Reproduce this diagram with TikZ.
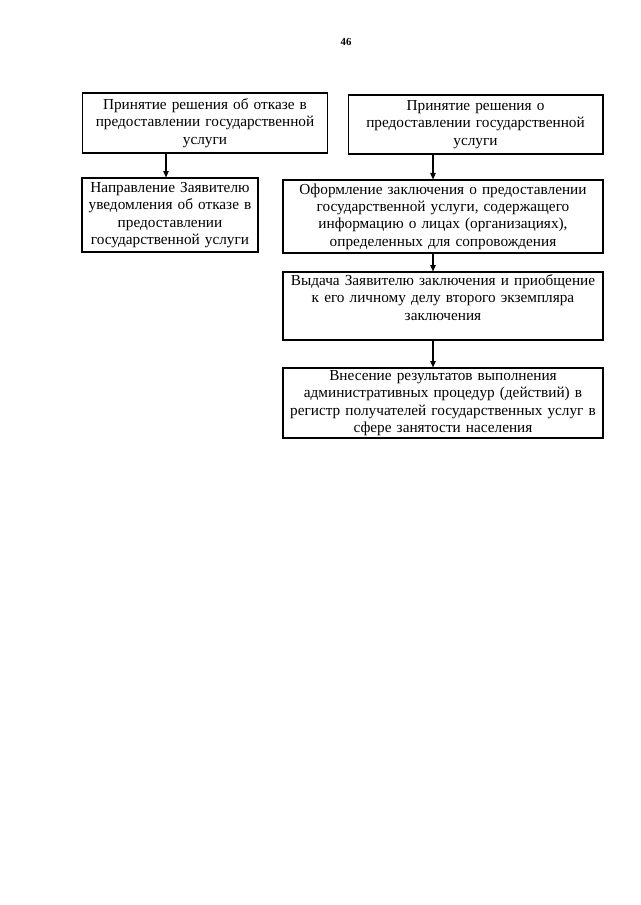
\documentclass[tikz,border=0pt]{standalone}
\usepackage{fontspec}
\setmainfont{Liberation Serif}
\usetikzlibrary{arrows.meta,calc}

\begin{document}
\begin{tikzpicture}[x=0.9297pt,y=-0.9297pt]
\tikzstyle{every node}+=[inner sep=2pt]
\tikzstyle{box}=[draw=black, line width=1pt, align=center, font=\fontsize{14.2}{16.2}\selectfont]
\tikzstyle{arr}=[black, line width=1pt, -{Triangle[length=6pt,width=5pt]}]
\useasboundingbox (0,0) rectangle (640,905);
\node (pagenum) at (346,42) {\fontsize{10}{12}\selectfont\bfseries 46};
% left branch
\node [box, text width=224pt, minimum height=55.8pt] (refuse) at (205,123)
  {Принятие решения об отказе в\\ предоставлении государственной\\ услуги};
\node [box, text width=159.6pt, minimum height=68.8pt] (notify) at (170,215)
  {Направление Заявителю\\ уведомления об отказе в\\ предоставлении\\ государственной услуги};
% right branch
\node [box, text width=233pt, minimum height=54.9pt] (grant) at (475.5,124.5)
  {Принятие решения о\\ предоставлении государственной\\ услуги};
\node [box, text width=293.5pt, minimum height=67.9pt] (conclusion) at (443,216.5)
  {Оформление заключения о предоставлении\\ государственной услуги, содержащего\\ информацию о лицах (организациях),\\ определенных для сопровождения};
\node [box, text width=293.5pt, minimum height=63.2pt] (issue) at (443,306)
  {Выдача Заявителю заключения и приобщение\\ к его личному делу второго экземпляра\\ заключения\\ \mbox{}};
\node [box, text width=293.5pt, minimum height=65.1pt] (register) at (443,403)
  {Внесение результатов выполнения\\ административных процедур (действий) в\\ регистр получателей государственных услуг в\\ сфере занятости населения};
% arrows
\coordinate (lx) at ($(notify.north)+(-4,0)$);
\coordinate (rx) at ($(conclusion.north)+(-10,0)$);
\draw [arr] (lx |- refuse.south) -- (lx);
\draw [arr] (rx |- grant.south) -- (rx);
\draw [arr] (rx |- conclusion.south) -- (rx |- issue.north);
\draw [arr] (rx |- issue.south) -- (rx |- register.north);
\end{tikzpicture}
\end{document}
